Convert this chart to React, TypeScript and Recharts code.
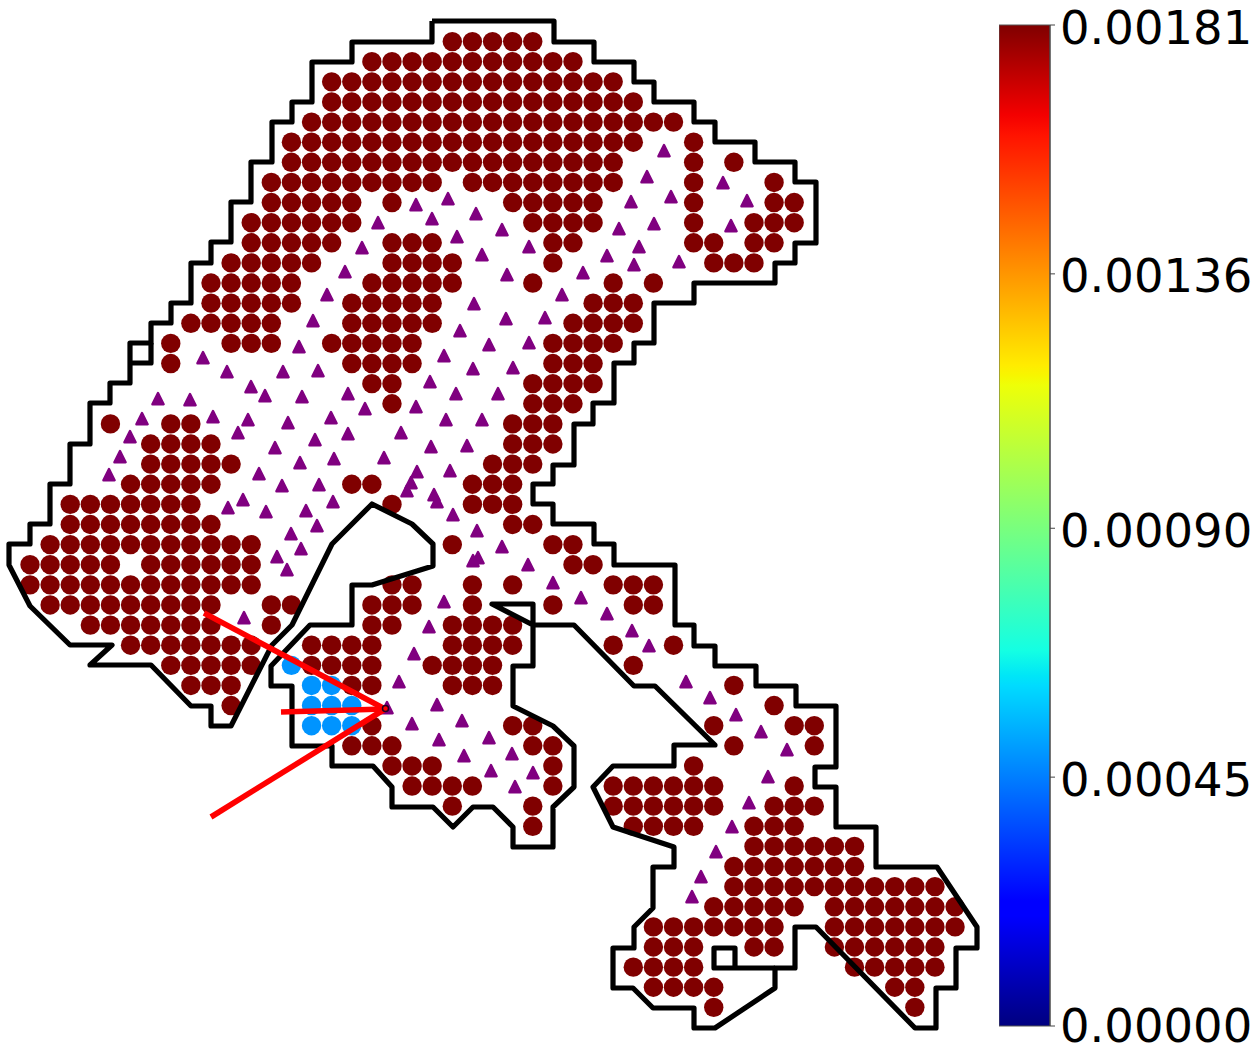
import { ScatterChart, Scatter, XAxis, YAxis, BarChart, Bar } from "recharts";

// spots on the tissue lattice, row by row, as [first column, last column] runs
const hotSpotRuns: number[][][] = [
  [[21, 25]],
  [[17, 27]],
  [[15, 29]],
  [[15, 30]],
  [[14, 32]],
  [[13, 30], [33, 33]],
  [[13, 29], [33, 33], [35, 35]],
  [[12, 20], [22, 29], [33, 33], [37, 37]],
  [[12, 16], [18, 18], [24, 28], [33, 33], [37, 38]],
  [[11, 16], [25, 28], [33, 33], [36, 38]],
  [[11, 15], [18, 20], [26, 27], [33, 34], [36, 37]],
  [[10, 14], [18, 21], [26, 26], [34, 36]],
  [[9, 13], [17, 21], [25, 25], [29, 29], [31, 31]],
  [[9, 13], [16, 20], [28, 30]],
  [[8, 12], [16, 20], [27, 30]],
  [[7, 7], [10, 12], [15, 19], [26, 29]],
  [[7, 7], [16, 19], [26, 28]],
  [[17, 18], [25, 28]],
  [[18, 18], [25, 27]],
  [[4, 4], [7, 8], [24, 26]],
  [[6, 9], [24, 26]],
  [[6, 10], [23, 25]],
  [[5, 9], [16, 17], [22, 24]],
  [[2, 8], [18, 18], [22, 24]],
  [[2, 9], [24, 25]],
  [[1, 11], [21, 21], [26, 27]],
  [[0, 4], [6, 11], [27, 28]],
  [[0, 11], [18, 19], [22, 22], [24, 24], [29, 31]],
  [[1, 9], [12, 13], [17, 19], [22, 22], [26, 26], [30, 31]],
  [[3, 9], [12, 12], [17, 18], [21, 24]],
  [[5, 11], [14, 17], [21, 24], [29, 29], [32, 32]],
  [[7, 11], [14, 17], [20, 23], [30, 30]],
  [[8, 10], [16, 17], [21, 23], [35, 35]],
  [[10, 10], [37, 37]],
  [[17, 17], [24, 25], [34, 34], [38, 39]],
  [[16, 18], [25, 26], [35, 35], [39, 39]],
  [[18, 20], [26, 26], [33, 33]],
  [[19, 22], [26, 26], [29, 34], [38, 38]],
  [[21, 21], [25, 25], [29, 34], [37, 39]],
  [[25, 25], [30, 33], [36, 38]],
  [[36, 41]],
  [[35, 41]],
  [[35, 45]],
  [[34, 38], [40, 46]],
  [[31, 37], [40, 46]],
  [[31, 33], [36, 37], [40, 45]],
  [[30, 33], [41, 45]],
  [[31, 34], [43, 44]],
  [[34, 34], [44, 44]],
];

const blueSpots = [
  { x: 13, y: 31 },
  { x: 14, y: 32 }, { x: 15, y: 32 },
  { x: 14, y: 33 }, { x: 15, y: 33 }, { x: 16, y: 33 },
  { x: 14, y: 34 }, { x: 15, y: 34 }, { x: 16, y: 34 },
];

// zero-value spots
const triangleXY = [
  [647, 177], [631, 202], [654, 224], [619, 229], [639, 247], [607, 256], [634, 265], [583, 273], [562, 295],
  [448, 199], [416, 205], [476, 214], [432, 219], [378, 223], [502, 230], [457, 237], [362, 248], [529, 247],
  [482, 255], [345, 272], [507, 275], [327, 295], [474, 304], [506, 319], [545, 318], [460, 331], [489, 345],
  [529, 343], [664, 151], [671, 197], [723, 183], [747, 201], [731, 226], [679, 262], [313, 321], [299, 347],
  [203, 358], [227, 372], [283, 372], [318, 371], [251, 387], [265, 396], [302, 397], [158, 399], [190, 400],
  [213, 417], [142, 419], [248, 420], [288, 423], [331, 418], [238, 433], [130, 437], [315, 440], [275, 448],
  [120, 457], [334, 459], [300, 463], [259, 474], [109, 475], [282, 486], [319, 485], [243, 500], [333, 502],
  [228, 508], [266, 512], [306, 511], [317, 526], [291, 534], [301, 549], [277, 557], [287, 570], [244, 618],
  [444, 356], [473, 369], [513, 368], [430, 382], [348, 394], [456, 394], [498, 394], [365, 409], [416, 407],
  [446, 420], [482, 420], [348, 434], [401, 433], [431, 447], [467, 446], [384, 458], [417, 472], [450, 471],
  [411, 483], [407, 491], [434, 495], [437, 502], [453, 515], [477, 531], [502, 547], [528, 565], [473, 561],
  [478, 558], [553, 583], [581, 598], [444, 602], [607, 614], [632, 631], [649, 646], [429, 627], [414, 654],
  [399, 682], [686, 682], [710, 698], [736, 715], [761, 732], [787, 750], [489, 738], [512, 754], [533, 773],
  [491, 771], [515, 787], [768, 777], [749, 803], [732, 827], [716, 852], [701, 877], [692, 897], [387, 708],
  [437, 705], [412, 724], [462, 721], [439, 740], [464, 756],
];

const mainOutlineXY = [
  [432, 21], [554, 21], [554, 42], [594, 42], [594, 62], [634, 62], [634, 82], [654, 82], [654, 102], [694, 102],
  [694, 122], [715, 122], [715, 142], [755, 142], [755, 162], [795, 162], [795, 182], [816, 182], [816, 243],
  [795, 243], [795, 263], [775, 263], [775, 283], [694, 283], [694, 303], [654, 303], [654, 343], [634, 343],
  [634, 363], [614, 363], [614, 403], [593, 403], [593, 424], [574, 424], [574, 465], [553, 465], [553, 484],
  [533, 484], [533, 504], [553, 504], [553, 524], [594, 524], [594, 544], [614, 544], [614, 565], [675, 565],
  [675, 625], [694, 625], [694, 646], [715, 646], [715, 666], [756, 666], [756, 686], [796, 686], [796, 706],
  [836, 706], [836, 767], [815, 767], [815, 787], [836, 787], [836, 827], [876, 827], [876, 867], [937, 867],
  [977, 927], [977, 948], [956, 948], [956, 988], [936, 988], [936, 1028], [915, 1028], [816, 927], [795, 927],
  [795, 968], [775, 968], [775, 988], [715, 1028], [694, 1028], [694, 1008], [653, 1008], [633, 988], [613, 988],
  [613, 948], [634, 948], [634, 927], [653, 908], [653, 867], [674, 867], [674, 847], [613, 827], [593, 787],
  [613, 766], [674, 766], [674, 745], [715, 745], [655, 686], [634, 686], [574, 625], [533, 625], [492, 604],
  [533, 604], [533, 666], [513, 666], [513, 706], [553, 726], [574, 746], [574, 787], [553, 807], [553, 847],
  [513, 847], [513, 827], [493, 807], [473, 807], [453, 827], [433, 807], [392, 807], [392, 787], [373, 766],
  [332, 766], [332, 746], [292, 746], [292, 686], [271, 686], [271, 666], [310, 625], [352, 625], [352, 585],
  [372, 585], [433, 566], [433, 544], [412, 524], [372, 504], [332, 544], [292, 625], [272, 645], [231, 726],
  [211, 726], [211, 706], [191, 706], [151, 665], [90, 665], [112, 645], [70, 645], [30, 606], [9, 565], [9, 544],
  [30, 544], [30, 524], [50, 524], [50, 484], [70, 484], [70, 444], [90, 444], [90, 403], [110, 403], [110, 383],
  [130, 383], [130, 343], [151, 343], [151, 323], [171, 323], [171, 303], [191, 303], [191, 263], [211, 263],
  [211, 242], [231, 242], [231, 202], [251, 202], [251, 162], [272, 162], [272, 122], [292, 122], [292, 102],
  [312, 102], [312, 62], [352, 62], [352, 42], [432, 42], [432, 21],
];
const leftSquareXY = [[130, 363], [151, 363], [151, 343]];
const lowerSquareXY = [[775, 968], [714, 968], [714, 948], [735, 948], [735, 968]];

const redLineTopXY = [[204, 613], [385, 709]];
const redLineMiddleXY = [[281, 712], [385, 709]];
const redLineBottomXY = [[211, 817], [385, 709]];
const tipXY = [[385.5, 708.5]];

const colorbarTicks = [0, 0.00045, 0.0009, 0.00136, 0.00181];
const colorbarData = [{ name: "value", top: 0.00181 }];

// matplotlib jet, bottom to top
const jetStops: [number, string][] = [
  [0, "#000080"], [0.11, "#0000ff"], [0.125, "#0000ff"], [0.34, "#00dbff"], [0.35, "#00e6f7"], [0.375, "#14ffe3"],
  [0.64, "#eeff08"], [0.65, "#f7f600"], [0.66, "#ffec00"], [0.89, "#ff1300"], [0.91, "#f40000"], [1, "#800000"],
];

const hotSpots = hotSpotRuns.flatMap((runs, row) =>
  runs.flatMap(([from, to]) => {
    const cells = [];
    for (let col = from; col <= to; col++) cells.push({ x: col, y: row });
    return cells;
  }),
);
const toPoints = (pairs: number[][]) => pairs.map(([x, y]) => ({ x, y }));

const spotShape = (fill: string) => (p: any) => <circle cx={p.cx} cy={p.cy} r={9.7} fill={fill} />;
const triangleShape = (p: any) => (
  <path
    d={`M${p.cx},${p.cy - 6} L${p.cx + 5.6},${p.cy + 5.2} L${p.cx - 5.6},${p.cy + 5.2} Z`}
    fill="#800080"
    stroke="#800080"
    strokeWidth={2.4}
    strokeLinejoin="round"
  />
);
const tipShape = (p: any) => <circle cx={p.cx} cy={p.cy} r={3} fill="#ff0000" stroke="#200020" strokeWidth={1.5} />;
const noShape = () => null;

// the 0 label sits a touch higher so its line box stays on the page
const colorbarTick = ({ x, y, payload }: any) => (
  <text x={x} y={y + (payload.value === 0 ? 16 : 18.5)} textAnchor="start" fontFamily="DejaVu Sans" fontSize={46.5} fill="#000000">
    {payload.value.toFixed(5)}
  </text>
);

const outlineLine = { stroke: "#000000", strokeWidth: 5.2, strokeLinejoin: "round", fill: "none" };
const redLine = { stroke: "#ff0000", strokeWidth: 5.6, fill: "none" };

export default function App() {
  return (
    <div style={{ position: "absolute", left: 0, top: 0, width: 1254, height: 1053, background: "#fff" }}>
      <div style={{ position: "absolute", left: 0, top: 0 }}>
        <ScatterChart width={1254} height={1053} margin={{ top: 0, right: 0, bottom: 0, left: 0 }}>
          <XAxis xAxisId="grid" dataKey="x" type="number" domain={[-1.4918, 60.865]} allowDataOverflow hide />
          <YAxis yAxisId="grid" dataKey="y" type="number" domain={[-2.0676, 50.268]} allowDataOverflow reversed hide width={0} />
          <XAxis xAxisId="px" dataKey="x" type="number" domain={[0, 1254]} allowDataOverflow hide />
          <YAxis yAxisId="px" dataKey="y" type="number" domain={[0, 1053]} allowDataOverflow reversed hide width={0} />

          <Scatter xAxisId="grid" yAxisId="grid" data={hotSpots} shape={spotShape("#800000")} isAnimationActive={false} />
          <Scatter xAxisId="grid" yAxisId="grid" data={blueSpots} shape={spotShape("#0094ff")} isAnimationActive={false} />
          <Scatter xAxisId="px" yAxisId="px" data={toPoints(triangleXY)} shape={triangleShape} isAnimationActive={false} />

          <Scatter xAxisId="px" yAxisId="px" data={toPoints(mainOutlineXY)} line={outlineLine} lineType="joint" shape={noShape} isAnimationActive={false} />
          <Scatter xAxisId="px" yAxisId="px" data={toPoints(leftSquareXY)} line={outlineLine} lineType="joint" shape={noShape} isAnimationActive={false} />
          <Scatter xAxisId="px" yAxisId="px" data={toPoints(lowerSquareXY)} line={outlineLine} lineType="joint" shape={noShape} isAnimationActive={false} />

          <Scatter xAxisId="px" yAxisId="px" data={toPoints(redLineTopXY)} line={redLine} lineType="joint" shape={noShape} isAnimationActive={false} />
          <Scatter xAxisId="px" yAxisId="px" data={toPoints(redLineMiddleXY)} line={redLine} lineType="joint" shape={noShape} isAnimationActive={false} />
          <Scatter xAxisId="px" yAxisId="px" data={toPoints(redLineBottomXY)} line={redLine} lineType="joint" shape={noShape} isAnimationActive={false} />
          <Scatter xAxisId="px" yAxisId="px" data={toPoints(tipXY)} shape={tipShape} isAnimationActive={false} />
        </ScatterChart>
      </div>

      <div style={{ position: "absolute", left: 999, top: 0 }}>
        <BarChart
          width={255}
          height={1053}
          data={colorbarData}
          margin={{ top: 25, right: 0, bottom: 27, left: 0 }}
          barCategoryGap={0}
        >
          <defs>
            <linearGradient id="jet" x1="0" y1="1" x2="0" y2="0">
              {jetStops.map(([at, color]) => (
                <stop key={at} offset={at} stopColor={color} />
              ))}
            </linearGradient>
          </defs>
          <XAxis dataKey="name" hide />
          <YAxis
            orientation="right"
            type="number"
            width={204}
            domain={[0, 0.00181]}
            ticks={colorbarTicks}
            interval={0}
            tickSize={5}
            tickMargin={5}
            axisLine={{ stroke: "#444444" }}
            tickLine={{ stroke: "#444444" }}
            tick={colorbarTick}
          />
          <Bar dataKey="top" fill="url(#jet)" stroke="#555555" strokeWidth={1} isAnimationActive={false} />
        </BarChart>
      </div>
    </div>
  );
}
